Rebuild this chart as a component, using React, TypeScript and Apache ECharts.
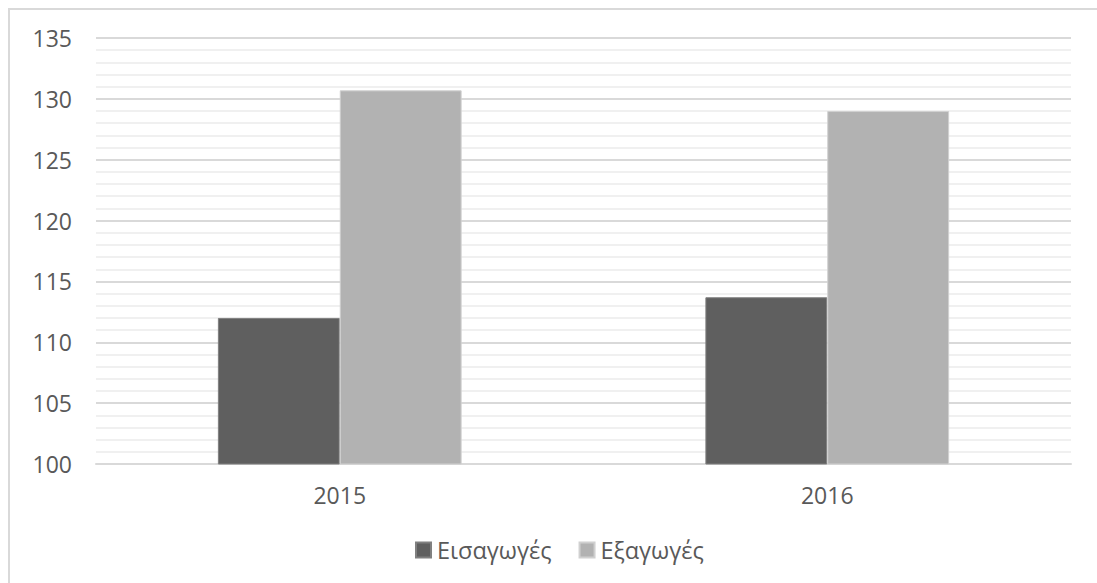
import React, { useEffect, useRef } from "react";
import * as echarts from "echarts";

const categories = ["2015", "2016"];
const importsValues = [112.0, 113.7];
const exportsValues = [130.7, 129.0];
const seriesNames = ["Εισαγωγές", "Εξαγωγές"];

const FONT = "'Open Sans', 'Liberation Sans', sans-serif";
const TEXT = "#595959";

export default function App() {
  const ref = useRef<HTMLDivElement>(null);
  useEffect(() => {
    if (!ref.current) return;
    const chart = echarts.init(ref.current, undefined, { renderer: "svg" });
    chart.setOption({
      animation: false,
      backgroundColor: "#ffffff",
      textStyle: { fontFamily: FONT },
      graphic: [
        {
          type: "rect",
          shape: { x: 9, y: 9, width: 2000, height: 2000 },
          style: { fill: "none", stroke: "#d9d9d9", lineWidth: 2 },
          silent: true,
        },
      ],
      grid: { left: 96, right: 26, top: 38, bottom: 119, containLabel: false },
      legend: {
        data: seriesNames,
        left: 415,
        top: 538,
        padding: 0,
        itemWidth: 15,
        itemHeight: 15,
        itemGap: 27,
        icon: "rect",
        textStyle: { color: TEXT, fontSize: 23.5, fontFamily: FONT, padding: [0, 0, 0, 1] },
      },
      xAxis: {
        type: "category",
        data: categories,
        axisLine: { show: true, lineStyle: { color: "#d9d9d9", width: 2 } },
        axisTick: { show: false },
        axisLabel: { color: TEXT, fontSize: 23, fontFamily: FONT, margin: 19 },
      },
      yAxis: {
        type: "value",
        min: 100,
        max: 135,
        interval: 5,
        axisLine: { show: false },
        axisTick: { show: false },
        axisLabel: { color: TEXT, fontSize: 23, fontFamily: FONT, margin: 24 },
        splitLine: { show: true, lineStyle: { color: "#d9d9d9", width: 2 } },
        minorTick: { show: false, splitNumber: 5 },
        minorSplitLine: { show: true, lineStyle: { color: "#f0f0f0", width: 2 } },
      },
      series: [
        {
          name: seriesNames[0],
          type: "bar",
          data: importsValues,
          barGap: "0%",
          barCategoryGap: "50%",
          itemStyle: { color: "#5f5f5f", borderColor: "#808080", borderWidth: 1 },
        },
        {
          name: seriesNames[1],
          type: "bar",
          data: exportsValues,
          itemStyle: { color: "#b2b2b2", borderColor: "#d0d0d0", borderWidth: 1 },
        },
      ],
    });
    return () => chart.dispose();
  }, []);
  return (
    <div
      ref={ref}
      style={{ position: "absolute", left: 0, top: 0, width: 1097, height: 583 }}
    />
  );
}
